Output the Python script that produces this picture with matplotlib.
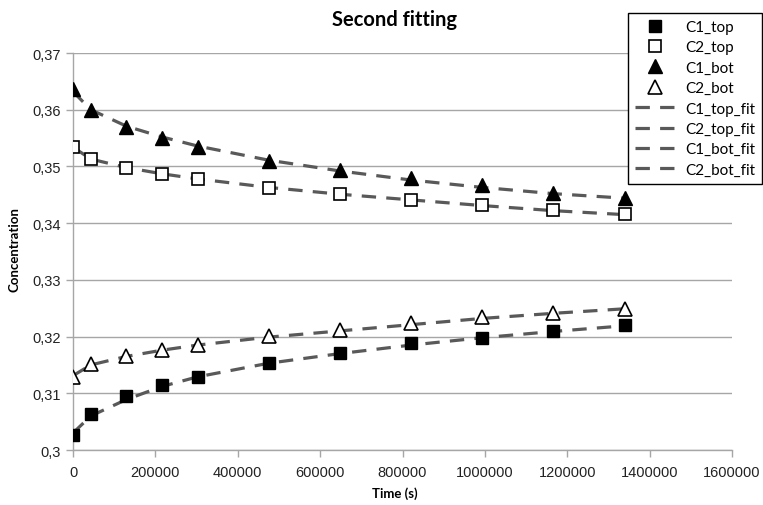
import matplotlib
matplotlib.use("Agg")
import matplotlib.pyplot as plt
from matplotlib.ticker import FuncFormatter, MultipleLocator

# ---- data ----
time_s = [0, 43200, 129600, 216000, 302400, 475200, 648000, 820800, 993600, 1166400, 1339200]

c1_top = [0.3026, 0.3063, 0.3095, 0.3115, 0.3129, 0.3153, 0.3171, 0.3189, 0.3198, 0.3210, 0.3221]
c2_top = [0.3535, 0.3513, 0.3497, 0.3486, 0.3478, 0.3462, 0.3451, 0.3441, 0.3432, 0.3423, 0.3416]
c1_bot = [0.3637, 0.3600, 0.3570, 0.3550, 0.3534, 0.3510, 0.3493, 0.3480, 0.3467, 0.3454, 0.3445]
c2_bot = [0.3129, 0.3151, 0.3166, 0.3177, 0.3186, 0.3201, 0.3212, 0.3224, 0.3234, 0.3241, 0.3248]

c1_top_fit = [0.3030, 0.3060, 0.3089, 0.3112, 0.3129, 0.3153, 0.3170, 0.3185, 0.3198, 0.3209, 0.3219]
c2_top_fit = [0.3534, 0.3513, 0.3498, 0.3487, 0.3478, 0.3463, 0.3451, 0.3441, 0.3431, 0.3422, 0.3415]
c1_bot_fit = [0.3632, 0.3600, 0.3571, 0.3552, 0.3536, 0.3511, 0.3492, 0.3476, 0.3463, 0.3452, 0.3444]
c2_bot_fit = [0.3131, 0.3150, 0.3165, 0.3176, 0.3185, 0.3199, 0.3210, 0.3221, 0.3232, 0.3241, 0.3249]

x_ticks = [0, 200000, 400000, 600000, 800000, 1000000, 1200000, 1400000, 1600000]
title = "Second fitting"
xlabel = "Time (s)"
ylabel = "Concentration"

# ---- figure ----
fig = plt.figure(figsize=(7.63, 5.06), dpi=100)
ax = fig.add_axes([73/763, 1-451/506, (732-73)/763, (451-54)/506])

grid_c = "#a6a6a6"
fit_c = "#595959"
ms = 8.5

ax.plot(time_s, c1_top, ls="none", marker="s", ms=ms, mfc="black", mec="black", label="C1_top", zorder=4)
ax.plot(time_s, c2_top, ls="none", marker="s", ms=ms, mfc="white", mec="black", mew=1.2, label="C2_top", zorder=4)
ax.plot(time_s, c1_bot, ls="none", marker="^", ms=ms+1, mfc="black", mec="black", label="C1_bot", zorder=4)
ax.plot(time_s, c2_bot, ls="none", marker="^", ms=ms+1, mfc="white", mec="black", mew=1.2, label="C2_bot", zorder=4)

dash = (4.5, 3.2)
for arr, lab in [(c1_top_fit, "C1_top_fit"), (c2_top_fit, "C2_top_fit"),
                 (c1_bot_fit, "C1_bot_fit"), (c2_bot_fit, "C2_bot_fit")]:
    ax.plot(time_s, arr, color=fit_c, lw=2.3, ls=(0, dash), label=lab, zorder=3)

ax.set_xlim(0, 1600000)
ax.set_ylim(0.3, 0.37)
ax.set_xticks(x_ticks)
ax.xaxis.set_major_formatter(FuncFormatter(lambda v, p: f"{int(round(v))}"))
ax.yaxis.set_major_locator(MultipleLocator(0.01))
ax.yaxis.set_major_formatter(FuncFormatter(lambda v, p: (f"{v:.2f}".rstrip("0").rstrip(".")).replace(".", ",")))

ax.grid(axis="y", color=grid_c, lw=1.0, zorder=0)
ax.set_axisbelow(True)
for s in ["top", "right"]:
    ax.spines[s].set_visible(False)
for s in ["left", "bottom"]:
    ax.spines[s].set_color(grid_c)
    ax.spines[s].set_linewidth(1.0)
ax.tick_params(axis="both", colors=grid_c, length=5, width=1.0, labelcolor="#222222",
               labelsize=10.5)
for lbl in ax.get_xticklabels() + ax.get_yticklabels():
    lbl.set_fontfamily("Liberation Sans")
ax.tick_params(axis="x", pad=6)

fig.text(395/763, 1-20/506, title, ha="center", va="center", fontsize=14.5,
         fontweight="bold", family="Lato")
fig.text(395/763, 1-494/506, xlabel, ha="center", va="center", fontsize=9.5,
         fontweight="bold", family="Lato")
fig.text(15/763, 1-250/506, ylabel, ha="center", va="center", rotation=90, fontsize=9.5,
         fontweight="bold", family="Lato")

leg = fig.legend(loc="upper right", bbox_to_anchor=(762/763, 1-14/506),
                 frameon=True, fancybox=False, edgecolor="black", framealpha=1,
                 prop={"family": "Lato", "size": 11}, handlelength=2.6,
                 labelspacing=0.42, borderpad=0.45, handletextpad=0.7, borderaxespad=0)
leg.get_frame().set_linewidth(1.0)

fig.savefig("out.png", dpi=100)
